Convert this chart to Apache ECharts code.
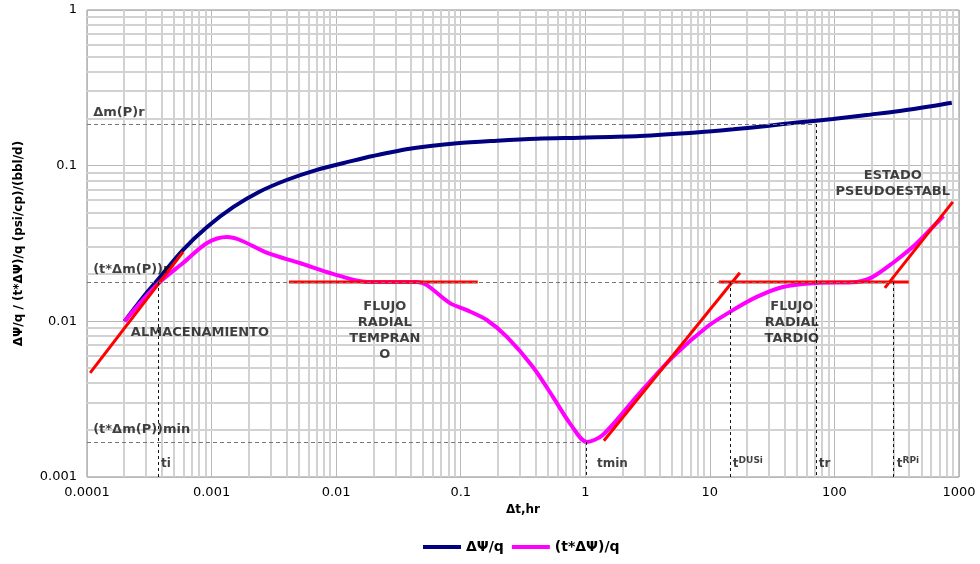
<html lang="es">
<head>
    <meta charset="UTF-8">
    <title>Derivada de presión - log-log</title>
    <script src="https://cdn.jsdelivr.net/npm/echarts@6/dist/echarts.min.js"></script>
</head>
<style>
    html, body { margin: 0; padding: 0; background: #fff; }
    #container { width: 980px; height: 564px; }
</style>
<body>
<div id="container"></div>
<script>
    // ejes
    var xTickLabels = ['0.0001', '0.001', '0.01', '0.1', '1', '10', '100', '1000'];
    var yTickLabels = ['0.001', '0.01', '0.1', '1'];

    // ΔΨ/q
    var tPsi = [0.0002, 0.00028, 0.00037, 0.00059, 0.00092, 0.0015, 0.0024, 0.004, 0.0069, 0.0129, 0.0197,
        0.0413, 0.0933, 0.195, 0.409, 0.906, 2.74, 8.2, 15.4, 28.7, 52.7, 97, 182, 335, 616, 875];
    var vPsi = [0.0100, 0.0142, 0.0185, 0.0288, 0.0404, 0.0543, 0.0678, 0.0809, 0.0937, 0.1065, 0.1154,
        0.1293, 0.1393, 0.1447, 0.149, 0.1513, 0.1551, 0.1639, 0.1713, 0.180, 0.190, 0.1995, 0.2117, 0.2245,
        0.2417, 0.2538];

    // (t*ΔΨ)/q
    var tDer = [0.0002, 0.00028, 0.000385, 0.00059, 0.00092, 0.00133, 0.00169, 0.0028, 0.0051, 0.0094, 0.0177,
        0.0445, 0.0535, 0.082, 0.112, 0.162, 0.235, 0.38, 0.55, 0.75, 1.03, 1.38, 2.74, 5.05, 9.46, 15.3, 23.8,
        38.5, 72, 151, 203, 294, 426, 583, 750];
    var vDer = [0.0100, 0.0137, 0.0179, 0.0237, 0.0319, 0.0348, 0.0333, 0.0275, 0.0237, 0.0202, 0.0179,
        0.0179, 0.0171, 0.0131, 0.0118, 0.0102, 0.00794, 0.00509, 0.00327, 0.00222, 0.00168, 0.00186, 0.00347,
        0.00591, 0.0092, 0.0118, 0.01435, 0.01663, 0.01765, 0.0179, 0.0193, 0.0237, 0.0301, 0.0386, 0.0475];

    // rectas de ajuste (rojas)
    var lineStorage = [[0.000106, 0.00466], [0.000589, 0.0279]];
    var lineEarlyRadial = [[0.00418, 0.0179], [0.137, 0.0179]];
    var lineBoundary = [[1.41, 0.00171], [17.4, 0.0205]];
    var lineLateRadial = [[11.8, 0.0179], [395, 0.0179]];
    var linePseudo = [[254, 0.0164], [892, 0.0585]];

    // valores característicos
    var dmPr = 0.185, tdmPr = 0.0179, tdmPmin = 0.00168;
    var ti = 0.000372, tmin = 1.01, tDUSi = 14.5, tr = 71, tRPi = 294;

    // textos
    var notes = [
        {value: [0.000112, 0.218], text: 'Δm(P)r', align: 'left'},
        {value: [0.000112, 0.0214], text: '(t*Δm(P))r', align: 'left'},
        {value: [0.000112, 0.00201], text: '(t*Δm(P))min', align: 'left'},
        {value: [0.000225, 0.00843], text: 'ALMACENAMIENTO', align: 'left'},
        {value: [0.0246, 0.00868], text: 'FLUJO\nRADIAL\nTEMPRAN\nO', align: 'center'},
        {value: [45.5, 0.00984], text: 'FLUJO\nRADIAL\nTARDIO', align: 'center'},
        {value: [294, 0.0768], text: 'ESTADO\nPSEUDOESTABL', align: 'center'},
        {value: [0.000392, 0.00121], text: '{a|ti}', align: 'left'},
        {value: [1.24, 0.00121], text: '{a|tmin}', align: 'left'},
        {value: [15.3, 0.00121], text: '{a|t}{b|DUSi}', align: 'left'},
        {value: [75, 0.00121], text: '{a|tr}', align: 'left'},
        {value: [317, 0.00121], text: '{a|t}{b|RPi}', align: 'left'}
    ];

    var font = 'DejaVu Sans';
    var xMin = 0.0001, xMax = 1000, yMin = 0.001, yMax = 1;

    function pairs(xs, ys)
    {
        return xs.map(function (x, i) { return [x, ys[i]]; });
    }

    // rejilla secundaria 2..9 de cada década: [x, y, 0 = vertical / 1 = horizontal]
    var minorGrid = [];
    for (var e = -4; e < 3; e++)
    {
        for (var m = 2; m < 10; m++)
        {
            minorGrid.push([m * Math.pow(10, e), yMin, 0]);
        }
    }
    for (var e2 = -3; e2 < 0; e2++)
    {
        for (var m2 = 2; m2 < 10; m2++)
        {
            minorGrid.push([xMin, m2 * Math.pow(10, e2), 1]);
        }
    }

    var gridStyle = {stroke: '#d2d2d2', lineWidth: 2};

    function renderGrid(params, api)
    {
        var p1, p2;
        if (api.value(2) === 0)
        {
            p1 = api.coord([api.value(0), yMin]);
            p2 = api.coord([api.value(0), yMax]);
            var x = Math.round(p1[0]);
            return {type: 'line', shape: {x1: x, y1: p1[1], x2: x, y2: p2[1]}, style: gridStyle, silent: true};
        }
        p1 = api.coord([xMin, api.value(1)]);
        p2 = api.coord([xMax, api.value(1)]);
        var y = Math.round(p1[1]);
        return {type: 'line', shape: {x1: p1[0], y1: y, x2: p2[0], y2: y}, style: gridStyle, silent: true};
    }

    var hDash = {type: [4, 3], color: '#777', width: 1};
    var vDash = {type: [3, 3], color: '#111', width: 1};
    var refLines = [
        [{coord: [xMin, dmPr]}, {coord: [tr, dmPr]}],
        [{coord: [xMin, tdmPr]}, {coord: [tRPi, tdmPr]}],
        [{coord: [xMin, tdmPmin]}, {coord: [tmin, tdmPmin]}],
        [{coord: [ti, tdmPr], lineStyle: vDash}, {coord: [ti, yMin]}],
        [{coord: [tmin, tdmPmin], lineStyle: vDash}, {coord: [tmin, yMin]}],
        [{coord: [tDUSi, tdmPr], lineStyle: vDash}, {coord: [tDUSi, yMin]}],
        [{coord: [tr, dmPr], lineStyle: vDash}, {coord: [tr, yMin]}],
        [{coord: [tRPi, tdmPr], lineStyle: vDash}, {coord: [tRPi, yMin]}]
    ];

    function redLine(d)
    {
        return {
            type: 'line', data: d, symbol: 'none', silent: true, z: 4,
            lineStyle: {color: '#ff0000', width: 3}
        };
    }

    var chart = echarts.init(document.getElementById('container'));

    var option = {
        animation: false,
        textStyle: {fontFamily: font},
        grid: {left: 87, right: 21, top: 10, bottom: 87, show: true, borderColor: '#8c8c8c', borderWidth: 1},
        legend: {
            bottom: 5, left: 418,
            icon: 'rect', itemWidth: 38, itemHeight: 4, itemGap: 8,
            textStyle: {fontFamily: font, fontWeight: 'bold', fontSize: 14, color: '#000'},
            data: ['ΔΨ/q', '(t*ΔΨ)/q']
        },
        xAxis: {
            type: 'log', logBase: 10, min: xMin, max: xMax, splitNumber: 7,
            name: 'Δt,hr', nameLocation: 'middle', nameGap: 26,
            nameTextStyle: {fontFamily: font, fontWeight: 'bold', fontSize: 12, color: '#000'},
            axisLine: {show: false}, axisTick: {show: false},
            axisLabel: {
                margin: 9, fontSize: 13, color: '#000', fontFamily: font,
                formatter: function (v) { return xTickLabels[Math.round(Math.log10(v)) + 4]; }
            },
            splitLine: {show: true, lineStyle: {color: '#b8b8b8', width: 1}}
        },
        yAxis: {
            type: 'log', logBase: 10, min: yMin, max: yMax, splitNumber: 3,
            name: 'ΔΨ/q / (t*ΔΨ)/q (psi/cp)/(bbl/d)', nameLocation: 'middle', nameGap: 62, nameRotate: 90,
            nameTextStyle: {fontFamily: font, fontWeight: 'bold', fontSize: 12, color: '#000'},
            axisLine: {show: false}, axisTick: {show: false},
            axisLabel: {
                margin: 10, fontSize: 13, color: '#000', fontFamily: font,
                formatter: function (v) { return yTickLabels[Math.round(Math.log10(v)) + 3]; }
            },
            splitLine: {show: true, lineStyle: {color: '#b8b8b8', width: 1}}
        },
        series: [
            {
                type: 'custom', data: minorGrid, renderItem: renderGrid, silent: true, z: 1, clip: false
            },
            {
                type: 'line', data: [], silent: true, z: 2,
                markLine: {
                    silent: true, symbol: 'none', label: {show: false},
                    lineStyle: hDash,
                    data: refLines
                }
            },
            {
                name: 'ΔΨ/q', type: 'line', data: pairs(tPsi, vPsi), symbol: 'none', smooth: 0.3, z: 3,
                color: '#000080', lineStyle: {color: '#000080', width: 4}
            },
            {
                name: '(t*ΔΨ)/q', type: 'line', data: pairs(tDer, vDer), symbol: 'none', smooth: 0.3, z: 3,
                color: '#ff00ff', lineStyle: {color: '#ff00ff', width: 4}
            },
            redLine(lineStorage),
            redLine(lineEarlyRadial),
            redLine(lineBoundary),
            redLine(lineLateRadial),
            redLine(linePseudo),
            {
                type: 'scatter', symbolSize: 0, silent: true, z: 6,
                data: notes.map(function (n)
                {
                    return {
                        value: n.value,
                        label: {
                            show: true, position: [0, 0], formatter: n.text,
                            align: n.align, verticalAlign: 'middle',
                            fontFamily: font, fontWeight: 'bold', fontSize: 13, color: '#111', lineHeight: 16,
                            rich: {
                                a: {fontFamily: font, fontWeight: 'bold', fontSize: 12, color: '#111'},
                                b: {fontFamily: font, fontWeight: 'bold', fontSize: 9, color: '#111', verticalAlign: 'top'}
                            }
                        }
                    };
                })
            }
        ]
    };

    chart.setOption(option);
</script>
</body>
</html>
